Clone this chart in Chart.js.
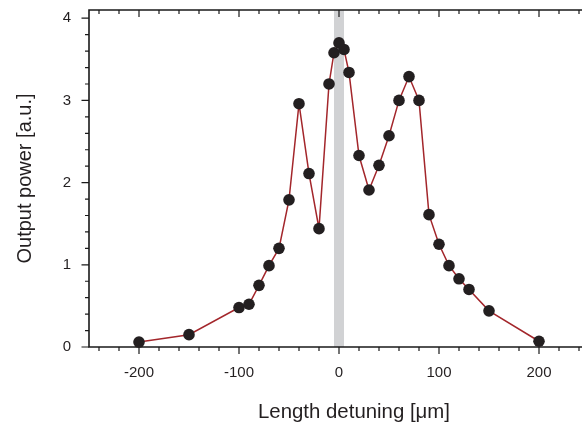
<!DOCTYPE html>
<html>
<head>
<meta charset="utf-8">
<script src="https://cdn.jsdelivr.net/npm/chart.js@4.4.1/dist/chart.umd.min.js"></script>
<style>
  html, body { margin: 0; padding: 0; background: #fff; overflow: hidden; }
  #chart { display: block; width: 582px; height: 423px; }
</style>
</head>
<body>
<canvas id="chart" width="582" height="423"></canvas>
<script>
// length detuning [µm]
var detuning = [-200, -150, -100, -90, -80, -70, -60, -50, -40, -30, -20, -10, -5, 0, 5, 10,
                20, 30, 40, 50, 60, 70, 80, 90, 100, 110, 120, 130, 150, 200];
// output power [a.u.]
var power = [0.06, 0.15, 0.48, 0.52, 0.75, 0.99, 1.20, 1.79, 2.96, 2.11, 1.44, 3.20, 3.58, 3.70, 3.62, 3.34,
             2.33, 1.91, 2.21, 2.57, 3.00, 3.29, 3.00, 1.61, 1.25, 0.99, 0.83, 0.70, 0.44, 0.07];
var xTicks = [-200, -100, 0, 100, 200];
var yTicks = [0, 1, 2, 3, 4];
// shaded region around zero detuning
var band = [-5, 5];
var xMinorStep = 20;
var yMinorStep = 0.2;
var xTitle = 'Length detuning [μm]';
var yTitle = 'Output power [a.u.]';

var textColor = '#231f20';
var fontFamily = "'Liberation Sans', Arial, Helvetica, sans-serif";

var points = detuning.map(function (d, i) { return { x: d, y: power[i] }; });

// frame (left, bottom, top), tick marks and the grey band
var frame = {
    id: 'frame',
    beforeDatasetsDraw: function (chart) {
        var ctx = chart.ctx, a = chart.chartArea;
        var xs = chart.scales.x, ys = chart.scales.y;
        ctx.save();

        var b0 = xs.getPixelForValue(band[0]), b1 = xs.getPixelForValue(band[1]);
        ctx.fillStyle = '#d1d2d4';
        ctx.fillRect(b0, a.top, b1 - b0, a.bottom - a.top);

        ctx.strokeStyle = '#1a1a1a';
        ctx.lineWidth = 1.6;
        ctx.beginPath();
        ctx.moveTo(a.right, a.top);
        ctx.lineTo(a.left, a.top);
        ctx.lineTo(a.left, a.bottom);
        ctx.lineTo(a.right, a.bottom);
        ctx.stroke();

        ctx.lineWidth = 1.2;
        ctx.beginPath();
        for (var i = -12; i <= 12; i++) {
            var v = i * xMinorStep;
            var px = xs.getPixelForValue(v);
            var len = (v % 100 === 0) ? 7 : 4;
            ctx.moveTo(px, a.bottom);
            ctx.lineTo(px, a.bottom + len);
            ctx.moveTo(px, a.top);
            ctx.lineTo(px, a.top + len);
        }
        for (var j = 0; j <= 20; j++) {
            var py = ys.getPixelForValue(j * yMinorStep);
            var l = (j % 5 === 0) ? 7.5 : 4;
            ctx.moveTo(a.left - l, py);
            ctx.lineTo(a.left, py);
        }
        ctx.stroke();

        // x axis title sits a little right of the plot centre
        ctx.fillStyle = textColor;
        ctx.font = '20.4px ' + fontFamily;
        ctx.textAlign = 'center';
        ctx.textBaseline = 'alphabetic';
        ctx.fillText(xTitle, xs.getPixelForValue(15), 418);
        ctx.restore();
    }
};

function noPad(s) {
    s.paddingTop = 0;
    s.paddingBottom = 0;
    s.paddingLeft = 0;
    s.paddingRight = 0;
}

new Chart(document.getElementById('chart'), {
    type: 'scatter',
    data: {
        datasets: [{
            data: points,
            showLine: true,
            borderColor: '#a3262b',
            borderWidth: 1.5,
            tension: 0,
            pointRadius: 5.8,
            pointBorderWidth: 0,
            pointBackgroundColor: '#231f20',
            clip: false
        }]
    },
    options: {
        responsive: false,
        animation: false,
        devicePixelRatio: 1,
        layout: { autoPadding: false, padding: { top: 10, right: 0, left: 0, bottom: 0 } },
        plugins: { legend: { display: false }, tooltip: { enabled: false } },
        scales: {
            x: {
                type: 'linear',
                min: -250,
                max: 243,
                grid: { display: false, drawTicks: false },
                border: { display: false },
                afterBuildTicks: function (s) {
                    s.ticks = xTicks.map(function (v) { return { value: v }; });
                },
                ticks: {
                    padding: 17,
                    maxRotation: 0,
                    autoSkip: false,
                    color: textColor,
                    font: { family: fontFamily, size: 15 }
                },
                title: { display: false },
                afterFit: function (s) { s.height = 76; noPad(s); }
            },
            y: {
                min: 0,
                max: 4.1,
                grid: { display: false, drawTicks: false },
                border: { display: false },
                afterBuildTicks: function (s) {
                    s.ticks = yTicks.map(function (v) { return { value: v }; });
                },
                ticks: {
                    padding: 18,
                    color: textColor,
                    font: { family: fontFamily, size: 15 }
                },
                title: {
                    display: true,
                    text: yTitle,
                    color: textColor,
                    font: { family: fontFamily, size: 20 },
                    padding: { top: 13, bottom: 0 }
                },
                afterFit: function (s) { s.width = 89; noPad(s); }
            }
        }
    },
    plugins: [frame]
});
</script>
</body>
</html>
